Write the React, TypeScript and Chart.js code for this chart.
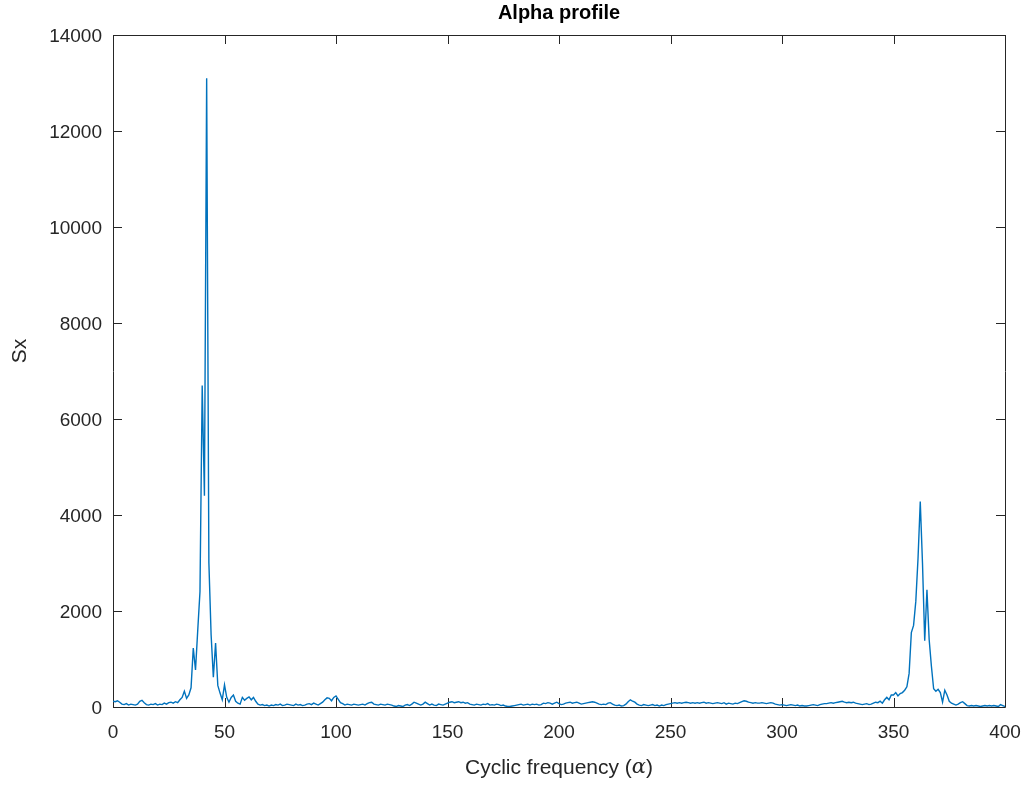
import React, { useEffect, useRef } from "react";
import { Chart, registerables } from "chart.js";

Chart.register(...registerables);

// Sx values sampled at alpha = 0, 1, 2, ... 400
const alphaStep = 1;
const sxValues: number[] = [
  120, 110, 130, 100, 60, 50, 70, 40, 60, 50,
  40, 60, 120, 140, 90, 50, 40, 60, 50, 70,
  40, 60, 50, 80, 60, 90, 100, 80, 110, 90,
  150, 200, 330, 180, 250, 400, 1230, 770, 1600, 2400,
  6700, 4400, 13100, 3000, 1500, 620, 1330, 450, 290, 150,
  460, 200, 100, 200, 250, 120, 80, 60, 200, 140,
  180, 210, 150, 200, 120, 60, 40, 50, 30, 40,
  20, 40, 30, 50, 40, 60, 30, 40, 60, 50,
  40, 30, 60, 40, 50, 30, 40, 60, 70, 50,
  80, 60, 40, 70, 100, 150, 190, 180, 130, 200,
  230, 160, 90, 70, 40, 60, 50, 40, 60, 50,
  40, 50, 60, 40, 70, 90, 100, 60, 50, 40,
  60, 50, 40, 60, 50, 40, 20, 10, 30, 20,
  10, 40, 50, 30, 60, 100, 80, 60, 40, 60,
  100, 70, 40, 60, 40, 30, 60, 50, 40, 60,
  80, 100, 110, 90, 100, 110, 90, 100, 80, 90,
  60, 50, 40, 60, 50, 40, 60, 50, 70, 40,
  50, 40, 60, 50, 30, 40, 20, 10, 10, 20,
  30, 40, 50, 60, 40, 50, 60, 40, 60, 50,
  60, 40, 50, 80, 70, 90, 80, 60, 80, 100,
  70, 50, 60, 80, 90, 100, 80, 90, 100, 80,
  60, 70, 80, 90, 100, 110, 100, 80, 60, 50,
  60, 50, 80, 90, 60, 40, 30, 40, 20, 30,
  60, 110, 150, 120, 100, 60, 40, 30, 50, 40,
  30, 40, 50, 30, 40, 20, 40, 30, 50, 60,
  70, 80, 90, 80, 90, 80, 90, 100, 90, 80,
  90, 80, 90, 80, 90, 100, 80, 90, 80, 70,
  80, 90, 80, 70, 90, 60, 80, 70, 60, 80,
  70, 90, 110, 130, 120, 100, 90, 80, 90, 80,
  80, 90, 80, 70, 80, 90, 80, 60, 50, 40,
  50, 40, 30, 40, 50, 40, 30, 40, 20, 30,
  20, 20, 30, 40, 50, 40, 30, 50, 60, 70,
  70, 80, 90, 80, 90, 100, 110, 120, 100, 90,
  100, 90, 100, 80, 70, 60, 50, 60, 70, 50,
  60, 80, 100, 90, 120, 80, 150, 200, 150, 250,
  250, 300, 230, 280, 300, 350, 420, 700, 1550, 1700,
  2200, 3100, 4280, 3000, 1380, 2440, 1400, 850, 380, 330,
  370, 300, 100, 350, 250, 120, 80, 60, 40, 60,
  90, 110, 70, 30, 20, 30, 20, 30, 20, 10,
  20, 30, 20, 30, 20, 30, 20, 10, 50, 30,
  10,
];

const xTicks = [0, 50, 100, 150, 200, 250, 300, 350, 400];
const yTicks = [0, 2000, 4000, 6000, 8000, 10000, 12000, 14000];

const titleText = "Alpha profile";
const xLabelMain = "Cyclic frequency (";
const xLabelGreek = "α";
const xLabelEnd = ")";
const yLabelText = "Sx";

const FONT = "'Liberation Sans', Arial, Helvetica, sans-serif";
const AXIS_COLOR = "#262626";
const LINE_COLOR = "#0072BD";

const boxPlugin = {
  id: "matlabBox",
  beforeDatasetsDraw(chart: any) {
    const { ctx, chartArea } = chart;
    const { left, right, top, bottom } = chartArea;
    const xs = chart.scales.x;
    const ys = chart.scales.y;
    const tl = 9;
    ctx.save();
    ctx.strokeStyle = AXIS_COLOR;
    ctx.lineWidth = 1;
    ctx.beginPath();
    ctx.rect(Math.round(left) + 0.5, Math.round(top) + 0.5, Math.round(right - left), Math.round(bottom - top));
    ctx.stroke();
    ctx.beginPath();
    for (const v of xTicks) {
      const px = Math.round(xs.getPixelForValue(v)) + 0.5;
      ctx.moveTo(px, bottom);
      ctx.lineTo(px, bottom - tl);
      ctx.moveTo(px, top);
      ctx.lineTo(px, top + tl);
    }
    for (const v of yTicks) {
      const py = Math.round(ys.getPixelForValue(v)) + 0.5;
      ctx.moveTo(left, py);
      ctx.lineTo(left + tl, py);
      ctx.moveTo(right, py);
      ctx.lineTo(right - tl, py);
    }
    ctx.stroke();
    ctx.restore();
  },
  afterDraw(chart: any) {
    const { ctx, chartArea } = chart;
    const cx = (chartArea.left + chartArea.right) / 2;
    const cy = (chartArea.top + chartArea.bottom) / 2;
    ctx.save();
    // title
    ctx.fillStyle = "#000000";
    ctx.font = `bold 20px ${FONT}`;
    ctx.textAlign = "center";
    ctx.textBaseline = "middle";
    ctx.fillText(titleText, cx, 13);
    // x label
    ctx.fillStyle = AXIS_COLOR;
    ctx.font = `21px ${FONT}`;
    const w1 = ctx.measureText(xLabelMain).width;
    const w3 = ctx.measureText(xLabelEnd).width;
    ctx.font = `italic 21px 'DejaVu Serif', serif`;
    const w2 = ctx.measureText(xLabelGreek).width;
    const total = w1 + w2 + w3;
    let x0 = cx - total / 2;
    const ly = 768;
    ctx.textAlign = "left";
    ctx.font = `21px ${FONT}`;
    ctx.fillText(xLabelMain, x0, ly);
    x0 += w1;
    ctx.font = `italic 21px 'DejaVu Serif', serif`;
    ctx.fillText(xLabelGreek, x0, ly);
    x0 += w2;
    ctx.font = `21px ${FONT}`;
    ctx.fillText(xLabelEnd, x0, ly);
    // y label
    ctx.translate(20, cy - 20);
    ctx.rotate(-Math.PI / 2);
    ctx.textAlign = "center";
    ctx.fillText(yLabelText, 0, 0);
    ctx.restore();
  },
};

export default function App() {
  const canvasRef = useRef<HTMLCanvasElement | null>(null);

  useEffect(() => {
    document.body.style.margin = "0";
    const canvas = canvasRef.current;
    if (!canvas) return;
    const points = sxValues.map((v, i) => ({ x: i * alphaStep, y: v }));
    const chart = new Chart(canvas, {
      type: "line",
      data: {
        datasets: [
          {
            data: points,
            borderColor: LINE_COLOR,
            borderWidth: 1.4,
            pointRadius: 0,
            tension: 0,
            fill: false,
          },
        ],
      },
      options: {
        responsive: false,
        animation: false,
        layout: { padding: { left: 0, right: 27, top: 35, bottom: 0 } },
        plugins: {
          legend: { display: false },
          title: { display: false },
          tooltip: { enabled: false },
        },
        scales: {
          x: {
            type: "linear",
            min: 0,
            max: 400,
            grid: { display: false, drawTicks: false },
            border: { display: false },
            afterBuildTicks: (scale: any) => {
              scale.ticks = xTicks.map((v) => ({ value: v }));
            },
            afterFit: (scale: any) => {
              scale.height = 80;
              scale.paddingLeft = 0;
              scale.paddingRight = 0;
            },
            ticks: {
              padding: 14,
              color: AXIS_COLOR,
              font: { family: FONT, size: 19 },
              maxRotation: 0,
            },
          },
          y: {
            type: "linear",
            min: 0,
            max: 14000,
            grid: { display: false, drawTicks: false },
            border: { display: false },
            afterBuildTicks: (scale: any) => {
              scale.ticks = yTicks.map((v) => ({ value: v }));
            },
            afterFit: (scale: any) => {
              scale.width = 113;
              scale.paddingTop = 0;
              scale.paddingBottom = 0;
            },
            ticks: {
              padding: 11,
              labelOffset: 2,
              color: AXIS_COLOR,
              font: { family: FONT, size: 19 },
              callback: (v: any) => String(v),
            },
          },
        },
      },
      plugins: [boxPlugin],
    });
    return () => chart.destroy();
  }, []);

  return (
    <div style={{ width: 1032, height: 787, background: "#ffffff" }}>
      <canvas ref={canvasRef} width={1032} height={787} style={{ display: "block" }} />
    </div>
  );
}
